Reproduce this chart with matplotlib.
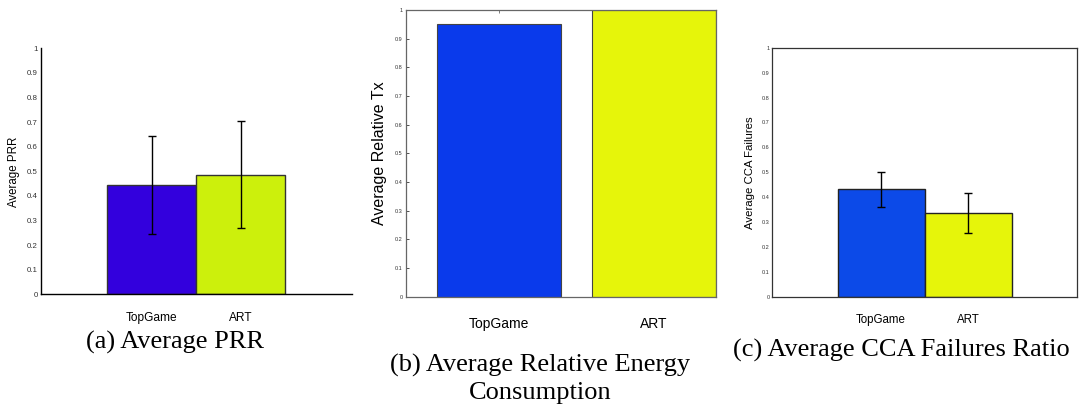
#!/usr/bin/env python3
"""
TopGame vs ART: 三个子图 (PRR / 相对能耗 / CCA 失败率)
"""

import numpy as np
import matplotlib
matplotlib.use("Agg")
import matplotlib.pyplot as plt

plt.rcParams["font.family"] = ["Liberation Sans", "DejaVu Sans"]

# ─── 数据 ────────────────────────────────────────────────────────────────────
METHODS     = ["TopGame", "ART"]
PRR_MEAN    = [0.445, 0.487]
PRR_ERR     = [0.200, 0.218]
ENERGY_MEAN = [0.950, 1.000]
CCA_MEAN    = [0.431, 0.337]
CCA_ERR     = [0.070, 0.081]
YTICKS      = [0, 0.1, 0.2, 0.3, 0.4, 0.5, 0.6, 0.7, 0.8, 0.9, 1.0]

X = np.arange(1, len(METHODS) + 1)

# ─── 画布 ────────────────────────────────────────────────────────────────────
fig = plt.figure(figsize=(10.8, 4.05), dpi=100)

ax_a = fig.add_axes([0.0377, 0.2733, 0.2880, 0.6074])
ax_b = fig.add_axes([0.3756, 0.2674, 0.2870, 0.7079])
ax_c = fig.add_axes([0.7151, 0.2674, 0.2819, 0.6148])


def style_y(ax, size, tick_len, labelsize, labelpad, ylabel):
    ax.set_ylim(0, 1)
    ax.set_yticks(YTICKS)
    ax.set_yticklabels([f"{v:g}" for v in YTICKS])
    ax.tick_params(axis="y", direction="in", length=tick_len, width=0.6,
                   labelsize=size, pad=2, colors="#333333",
                   labelcolor="#333333")
    ax.set_ylabel(ylabel, fontsize=labelsize, labelpad=labelpad)


# (a) Average PRR
ax_a.bar(X, PRR_MEAN, width=1.0, color=["#3300DD", "#CCF00C"],
         edgecolor="#333333", linewidth=1.0, zorder=2)
ax_a.errorbar(X, PRR_MEAN, yerr=PRR_ERR, fmt="none", ecolor="black",
              elinewidth=1.0, capsize=2.6, capthick=1.0, zorder=3)
ax_a.set_xlim(-0.25, 3.25)
ax_a.spines["top"].set_visible(False)
ax_a.spines["right"].set_visible(False)
for s in ("left", "bottom"):
    ax_a.spines[s].set_linewidth(1.0)
style_y(ax_a, 5.7, 0, 8.3, 5, "Average PRR")
ax_a.set_xticks(X)
ax_a.set_xticklabels(METHODS, fontsize=8.6)
ax_a.tick_params(axis="x", length=0, pad=12.7)

# (b) Average Relative Tx
ax_b.bar(X, ENERGY_MEAN, width=0.8, color=["#0A3AEB", "#E6F50A"],
         edgecolor="#444444", linewidth=0.8, zorder=2)
ax_b.set_xlim(0.4, 2.4)
for s in ax_b.spines.values():
    s.set_color("#666666")
    s.set_linewidth(0.9)
style_y(ax_b, 4.0, 2, 11.5, 6, "Average Relative Tx")
ax_b.set_xticks(X)
ax_b.set_xticklabels(METHODS, fontsize=10)
ax_b.tick_params(axis="x", direction="in", length=2, width=0.6,
                 top=True, pad=14.5, colors="#666666", labelcolor="black")

# (c) Average CCA Failures
ax_c.bar(X, CCA_MEAN, width=1.0, color=["#0C4AE8", "#E6F50A"],
         edgecolor="#222222", linewidth=1.0, zorder=2)
ax_c.errorbar(X, CCA_MEAN, yerr=CCA_ERR, fmt="none", ecolor="black",
              elinewidth=1.0, capsize=2.6, capthick=1.0, zorder=3)
ax_c.set_xlim(-0.25, 3.25)
for s in ax_c.spines.values():
    s.set_color("#333333")
    s.set_linewidth(0.9)
style_y(ax_c, 4.0, 0, 8.2, 5, "Average CCA Failures")
ax_c.set_xticks(X)
ax_c.set_xticklabels(METHODS, fontsize=8.3)
ax_c.tick_params(axis="x", length=0, pad=12.5)

# ─── 子图标题 ────────────────────────────────────────────────────────────────
cap = dict(ha="center", va="baseline", fontsize=19,
           family=["Liberation Serif", "DejaVu Serif"])
fig.text(175 / 1080, 1 - 349 / 405, "(a) Average PRR", **cap)
fig.text(540 / 1080, 1 - 372 / 405, "(b) Average Relative Energy", **cap)
fig.text(540 / 1080, 1 - 399 / 405, "Consumption", **cap)
fig.text(901 / 1080, 1 - 357 / 405, "(c) Average CCA Failures Ratio", **cap)

fig.savefig("out.png", dpi=100)
